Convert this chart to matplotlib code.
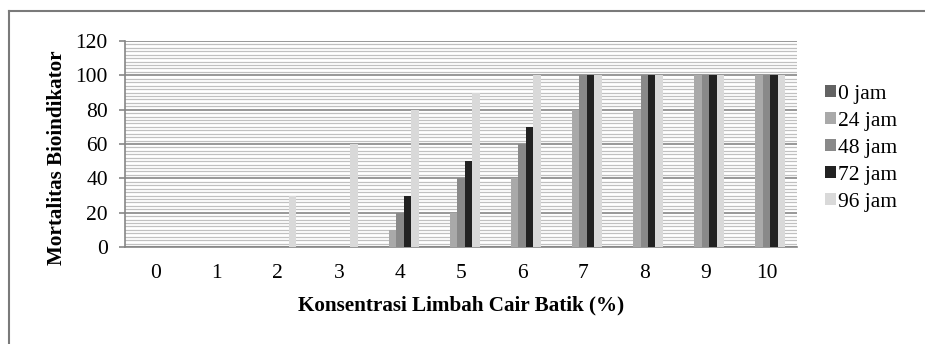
import matplotlib
matplotlib.use("Agg")
import matplotlib.pyplot as plt
from matplotlib.patches import Patch
from matplotlib.lines import Line2D
import numpy as np

categories = ["0", "1", "2", "3", "4", "5", "6", "7", "8", "9", "10"]
series_names = ["0 jam", "24 jam", "48 jam", "72 jam", "96 jam"]
jam0 = [0, 0, 0, 0, 0, 0, 0, 0, 0, 0, 0]
jam24 = [0, 0, 0, 0, 10, 20, 40, 80, 80, 100, 100]
jam48 = [0, 0, 0, 0, 20, 40, 60, 100, 100, 100, 100]
jam72 = [0, 0, 0, 0, 30, 50, 70, 100, 100, 100, 100]
jam96 = [0, 0, 30, 60, 80, 90, 100, 100, 100, 100, 100]
yticks = [0, 20, 40, 60, 80, 100, 120]

colors = ["#636363", "#a9a9a9", "#898989", "#222222", "#d9d9d9"]

plt.rcParams['font.family'] = ['Liberation Serif', 'DejaVu Serif']
FS = 15.5
LFS = 15.2

fig = plt.figure(figsize=(9.25, 3.44), dpi=100)
ax = fig.add_axes([125/925, 1-247/344, (797-125)/925, (247-41)/344])

x = np.arange(len(categories))
w = 0.1225
data = [jam0, jam24, jam48, jam72, jam96]
for i, (vals, c) in enumerate(zip(data, colors)):
    ax.bar(x + (i - 2) * w, vals, width=w, color=c, zorder=3, linewidth=0)

ax.set_xlim(-0.5, 10.5)
ax.set_ylim(0, 120)
ax.set_yticks(yticks)
ax.set_yticks(np.arange(0, 121, 2), minor=True)
ax.set_xticks(x)
ax.set_xticklabels(categories)
ax.tick_params(axis='y', which='major', length=4.3, width=1.2, color='#868686', pad=8, labelsize=FS)
ax.tick_params(axis='y', which='minor', length=0)
ax.tick_params(axis='x', which='both', length=0, pad=12.5, labelsize=FS)

ax.yaxis.grid(True, which='minor', color='#c0c0c0', linewidth=0.9, zorder=0)
ax.yaxis.grid(True, which='major', color='#868686', linewidth=1.2, zorder=1)
ax.set_axisbelow(True)
for s in ['top', 'right']:
    ax.spines[s].set_visible(False)
for s in ['left', 'bottom']:
    ax.spines[s].set_color('#868686')
    ax.spines[s].set_linewidth(1.2)

fig.text(57/925, 1-158/344, "Mortalitas Bioindikator", rotation=90, ha='center', va='center',
         fontsize=LFS, fontweight='bold')
fig.text(461/925, 1-305/344, "Konsentrasi Limbah Cair Batik (%)", ha='center', va='center',
         fontsize=LFS, fontweight='bold')

handles = [Patch(facecolor=c, edgecolor='none') for c in colors]
fig.legend(handles, series_names, loc='upper left', bbox_to_anchor=(825/925, 1-85/344),
           frameon=False, fontsize=FS, handlelength=0.5, handleheight=0.5,
           handletextpad=0.12, labelspacing=0.37, borderpad=0, borderaxespad=0)

# outer frame (top and left only)
fig.add_artist(Line2D([9/925, 1], [1-11/344, 1-11/344], color='#7a7a7a', linewidth=1.5,
                      transform=fig.transFigure))
fig.add_artist(Line2D([9/925, 9/925], [0, 1-11/344], color='#7a7a7a', linewidth=1.5,
                      transform=fig.transFigure))

fig.savefig("out.png", dpi=100)
